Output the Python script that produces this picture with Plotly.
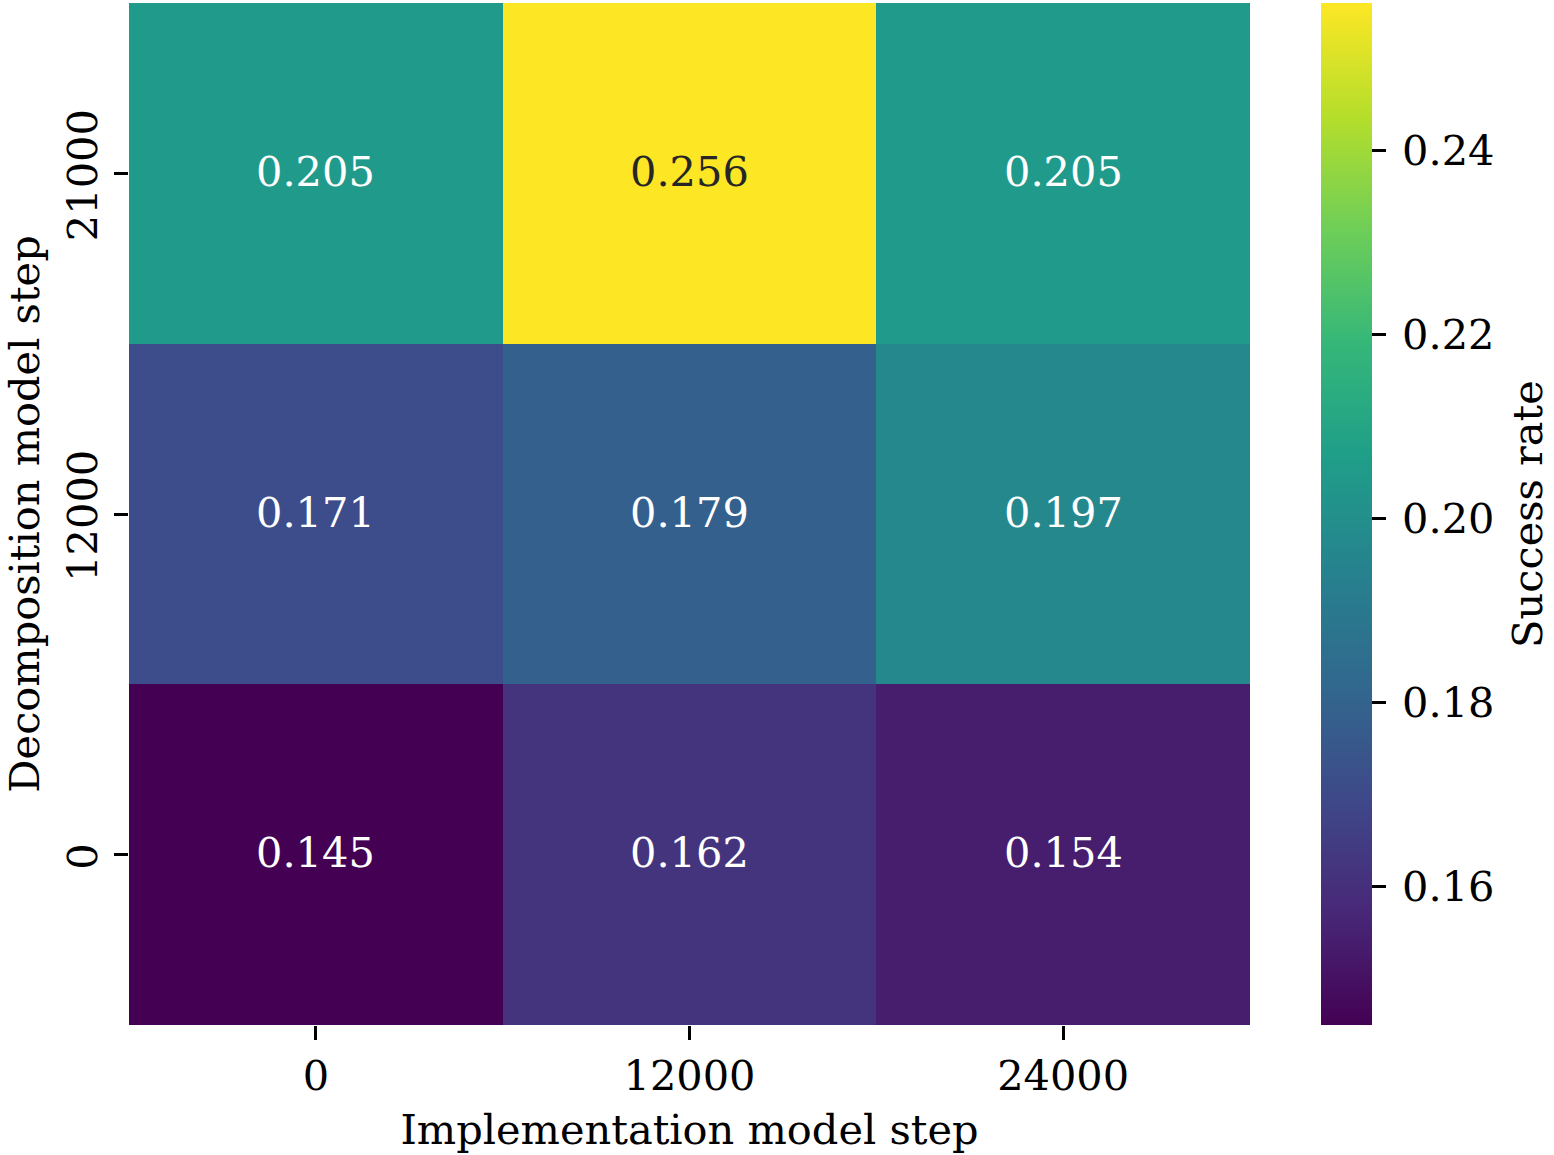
import plotly.graph_objects as go

impl_steps = ["0", "12000", "24000"]
decomp_steps = ["0", "12000", "21000"]  # bottom to top
success_rate = [
    [0.145, 0.162, 0.154],   # decomp 0
    [0.171, 0.179, 0.197],   # decomp 12000
    [0.205, 0.256, 0.205],   # decomp 21000
]
cbar_ticks = [0.16, 0.18, 0.20, 0.22, 0.24]

FONT = "DejaVu Serif"
FS = 41.5

xi = list(range(len(impl_steps)))
yi = list(range(len(decomp_steps)))

zmin = min(min(r) for r in success_rate)
zmax = max(max(r) for r in success_rate)

fig = go.Figure(go.Heatmap(
    x=xi, y=yi, z=success_rate,
    colorscale="Viridis", zmin=zmin, zmax=zmax,
    colorbar=dict(
        x=(1321 - 129) / 1121, xanchor="left", xref="paper",
        y=0.5, yanchor="middle", len=1, lenmode="fraction",
        thickness=51, thicknessmode="pixels",
        outlinewidth=0, ypad=0, xpad=0,
        tickvals=cbar_ticks, ticktext=["\u2009" + f"{t:.2f}" for t in cbar_ticks],
        ticks="outside", ticklen=14, tickwidth=2.5, tickcolor="black",
        tickfont=dict(family=FONT, size=FS, color="black"),
    ),
    hoverinfo="skip",
))

annotations = []
for i in yi:
    for j in xi:
        v = success_rate[i][j]
        color = "#262626" if v > 0.23 else "white"
        annotations.append(dict(
            x=j, y=i, xref="x", yref="y", text=f"{v:.3f}", yshift=2,
            showarrow=False, font=dict(family=FONT, size=FS, color=color),
        ))

# colorbar label
annotations.append(dict(
    x=(1527 - 129) / 1121, y=0.5, xref="paper", yref="paper",
    xanchor="center", yanchor="middle", text="Success rate",
    textangle=-90, showarrow=False,
    font=dict(family=FONT, size=FS, color="black"),
))

fig.update_layout(
    width=1554, height=1155,
    margin=dict(l=129, r=304, t=3, b=130),
    paper_bgcolor="white", plot_bgcolor="white",
    font=dict(family=FONT, size=FS, color="black"),
    annotations=annotations,
    xaxis=dict(
        range=[-0.5, len(impl_steps) - 0.5],
        tickvals=xi, ticktext=impl_steps,
        showgrid=False, zeroline=False, showline=False,
        ticks="outside", ticklen=14, tickwidth=2.5, tickcolor="black",
        tickfont=dict(family=FONT, size=FS, color="black"),
        title=dict(text="Implementation model step", standoff=16,
                   font=dict(family=FONT, size=FS, color="black")),
    ),
    yaxis=dict(
        range=[-0.5, len(decomp_steps) - 0.5],
        tickvals=yi, ticktext=decomp_steps,
        showgrid=False, zeroline=False, showline=False,
        ticks="outside", ticklen=14, tickwidth=2.5, tickcolor="black",
        tickangle=-90, ticklabelshift=8,
        tickfont=dict(family=FONT, size=FS, color="black"),
        title=dict(text="Decomposition model step", standoff=12,
                   font=dict(family=FONT, size=FS, color="black")),
    ),
)

fig.write_html("out.html")
